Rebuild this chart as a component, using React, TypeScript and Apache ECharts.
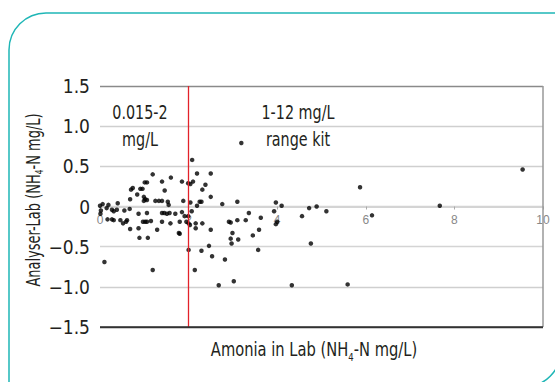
import React, { useEffect, useRef } from "react";
import * as echarts from "echarts";

// Axis ticks
const xMin = 0;
const xMax = 10;
const xStep = 2;
const yMin = -1.5;
const yMax = 1.5;
const yStep = 0.5;
const rangeBoundary = 2; // mg/L: split between the two kits

// Texts
const lowRangeLabel = ["0.015-2", "mg/L"];
const highRangeLabel = ["1-12 mg/L", "range kit"];
const xTitleParts = ["Amonia in Lab (NH", "4", "-N mg/L)"];
const yTitleParts = ["Analyser-Lab (NH", "4", "-N mg/L)"];

// [lab NH4-N mg/L, analyser - lab]
const lowRangePoints: [number, number][] = [
  [0.0, 0.01], [0.06, 0.03], [0.19, 0.02], [0.4, 0.04],
  [0.02, -0.05], [0.01, -0.09], [0.15, -0.02], [0.27, -0.04], [0.31, -0.06], [0.38, -0.04],
  [0.55, -0.05], [0.67, -0.03], [0.87, -0.09], [1.06, -0.08], [1.4, -0.08], [1.45, -0.08],
  [1.51, -0.09], [1.57, -0.08], [1.7, -0.09], [1.85, -0.07], [1.91, -0.12],
  [0.17, -0.16], [0.27, -0.16], [0.31, -0.17], [0.46, -0.17], [0.61, -0.17], [0.52, -0.21],
  [0.59, -0.19], [0.97, -0.19], [1.02, -0.19], [1.06, -0.19], [1.15, -0.18], [1.4, -0.19],
  [1.59, -0.21], [1.8, -0.19], [1.95, -0.19],
  [0.68, -0.28], [0.87, -0.27], [1.29, -0.29], [1.8, -0.34], [0.89, -0.39], [1.08, -0.39],
  [0.1, -0.69], [1.19, -0.79],
  [1.19, 0.4], [1.6, 0.36], [1.01, 0.3], [1.06, 0.3], [1.4, 0.31], [1.85, 0.31],
  [0.74, 0.23], [0.7, 0.21], [0.91, 0.22], [0.96, 0.22], [1.46, 0.2], [0.84, 0.15], [0.68, 0.09],
  [0.99, 0.12], [1.02, 0.09], [0.99, 0.07], [1.06, 0.08], [1.25, 0.07], [1.33, 0.07],
  [1.4, 0.07], [1.53, 0.06], [1.55, 0.02], [1.88, 0.07],
  [1.99, 0.29], [1.99, -0.12], [2.0, -0.21], [1.78, -0.33], [2.0, -0.54],
];

const highRangePoints: [number, number][] = [
  [2.04, 0.28], [2.1, 0.31], [2.04, 0.05], [2.08, 0.58], [2.07, -0.06], [2.03, -0.23],
  [2.16, -0.21], [2.16, -0.27], [2.14, -0.79],
  [2.19, 0.41], [2.5, 0.41], [2.38, 0.27], [2.31, 0.21], [2.5, 0.12], [2.25, 0.06], [2.29, 0.06],
  [2.19, 0.01], [2.76, 0.03], [3.1, 0.06], [3.97, 0.05], [4.1, 0.01], [3.93, -0.06], [3.36, -0.08],
  [2.91, -0.19], [2.95, -0.2], [3.1, -0.17], [3.29, -0.17], [3.63, -0.14], [4.0, -0.19],
  [3.97, -0.22], [2.31, -0.21],
  [2.5, -0.29], [2.99, -0.33], [2.95, -0.4], [2.97, -0.46], [3.12, -0.41], [3.45, -0.36],
  [3.59, -0.29], [2.46, -0.49], [2.29, -0.55], [3.57, -0.54], [2.53, -0.62], [2.82, -0.66],
  [3.02, -0.93], [2.68, -0.98],
  [3.19, 0.79], [4.56, -0.12], [4.72, -0.02], [4.89, 0.0], [5.11, -0.06], [5.87, 0.24],
  [4.76, -0.46], [4.33, -0.98], [5.59, -0.97], [6.14, -0.11], [7.67, 0.01], [9.54, 0.46],
];

const FONT = "'Liberation Sans Narrow', 'DejaVu Sans Condensed', 'Noto Sans', sans-serif";
const TEXT = "#231f20";

const GRID_TOP = 86;
const GRID_BOTTOM = 55;
const CHART_H = 382;

const fmtY = (v: number) => {
  if (Math.abs(v) < 1e-9) return "0";
  const s = Math.abs(v).toFixed(1);
  return v < 0 ? "\u2212" + s : s;
};

const titleRich = {
  a: { fontSize: 19, fontFamily: FONT, fill: TEXT, lineHeight: 24 },
  s: { fontSize: 11, fontFamily: FONT, fill: TEXT, lineHeight: 11, verticalAlign: "bottom" },
};

export default function App() {
  const ref = useRef<HTMLDivElement>(null);
  useEffect(() => {
    if (!ref.current) return;
    const chart = echarts.init(ref.current, undefined, { renderer: "svg" });
    const allPoints = [...lowRangePoints, ...highRangePoints];
    const gridH = CHART_H - GRID_TOP - GRID_BOTTOM;
    // distance from the bottom of the grid to the y = 0 line
    const zeroOffset = -(gridH * (0 - yMin)) / (yMax - yMin);
    chart.setOption({
      animation: false,
      grid: { left: 100, right: 12, top: GRID_TOP, bottom: GRID_BOTTOM, containLabel: false },
      xAxis: {
        type: "value",
        min: xMin,
        max: xMax,
        interval: xStep,
        offset: zeroOffset,
        axisLine: { show: true, onZero: true, lineStyle: { color: "#d4d4d4", width: 2 } },
        axisTick: { show: true, length: 3, lineStyle: { color: "#aaa" } },
        axisLabel: { color: "#888", fontSize: 12, fontFamily: "'Liberation Sans', Arial, sans-serif", margin: 7 },
        splitLine: { show: false },
      },
      yAxis: {
        type: "value",
        min: yMin,
        max: yMax,
        interval: yStep,
        axisLine: { show: false },
        axisTick: { show: false },
        axisLabel: { color: TEXT, fontSize: 19, fontFamily: FONT, margin: 10, formatter: fmtY },
        splitLine: {
          show: true,
          lineStyle: {
            color: ["#333", "#cfcfcf", "#d4d4d4", "#d4d4d4", "#cfcfcf", "#cfcfcf", "#8a8a8a"],
            width: 1.3,
          },
        },
      },
      series: [
        {
          type: "scatter",
          data: allPoints,
          symbolSize: 4.5,
          itemStyle: { color: "#000" },
          silent: true,
          markLine: {
            silent: true,
            symbol: "none",
            label: { show: false },
            data: [
              { xAxis: rangeBoundary, lineStyle: { color: "#e3222a", width: 1.3, type: "solid" } },
              { xAxis: xMax, lineStyle: { color: "#999", width: 1.5, type: "solid" } },
              { yAxis: yMin, lineStyle: { color: "#333", width: 1.5, type: "solid" } },
            ],
          },
        },
      ],
      graphic: [
        {
          type: "rect",
          shape: { x: 9, y: 13, width: 552, height: 374, r: [37, 0, 37, 0] },
          style: { fill: "none", stroke: "#1fb6b6", lineWidth: 1.5 },
          silent: true,
        },
        {
          type: "text",
          x: 140,
          y: 126,
          scaleX: 0.84,
          style: {
            text: lowRangeLabel.join("\n"),
            fontSize: 19,
            fontFamily: FONT,
            fill: TEXT,
            lineHeight: 27,
            align: "center",
            verticalAlign: "middle",
          },
        },
        {
          type: "text",
          x: 298,
          y: 126,
          scaleX: 0.84,
          style: {
            text: highRangeLabel.join("\n"),
            fontSize: 19,
            fontFamily: FONT,
            fill: TEXT,
            lineHeight: 27,
            align: "center",
            verticalAlign: "middle",
          },
        },
        {
          type: "text",
          x: 314,
          y: 350,
          scaleX: 0.86,
          style: {
            text: `{a|${xTitleParts[0]}}{s|${xTitleParts[1]}}{a|${xTitleParts[2]}}`,
            rich: titleRich,
            align: "center",
            verticalAlign: "middle",
          },
        },
        {
          type: "text",
          x: 33,
          y: 200,
          rotation: Math.PI / 2,
          scaleX: 0.76,
          style: {
            text: `{a|${yTitleParts[0]}}{s|${yTitleParts[1]}}{a|${yTitleParts[2]}}`,
            rich: titleRich,
            align: "center",
            verticalAlign: "middle",
          },
        },
      ],
    });
    return () => chart.dispose();
  }, []);
  return (
    <div
      ref={ref}
      style={{ position: "fixed", left: 0, top: 0, width: 555, height: 382, background: "#fff" }}
    />
  );
}
